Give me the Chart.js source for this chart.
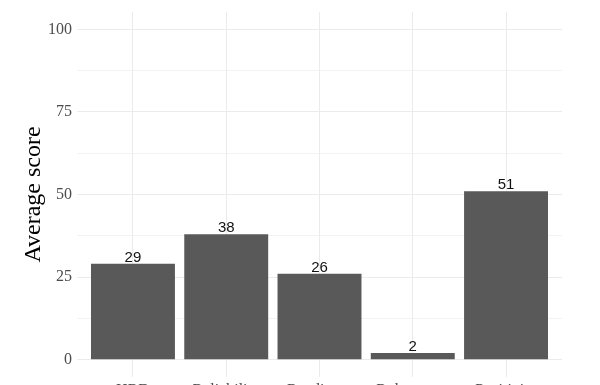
<!DOCTYPE html>
<html>
<head>
<meta charset="utf-8">
<script src="https://cdn.jsdelivr.net/npm/chart.js@4.4.1/dist/chart.umd.min.js"></script>
<style>
html,body{margin:0;padding:0;background:#fff;}
#wrap{width:600px;height:385px;position:relative;}
</style>
</head>
<body>
<div id="wrap"><canvas id="c" width="600" height="385"></canvas></div>
<script>
const categories = ["HRD", "Reliability", "Readiness", "Robustness", "Positivity"];
const scores = [29, 38, 26, 2, 51];
const yTicks = [0, 25, 50, 75, 100];
const yMinor = [12.5, 37.5, 62.5, 87.5];

const serif = "'Liberation Serif', 'DejaVu Serif', serif";

const valueLabels = {
  id: 'valueLabels',
  afterDatasetsDraw(chart) {
    const ctx = chart.ctx;
    const meta = chart.getDatasetMeta(0);
    ctx.save();
    ctx.font = "15px 'Liberation Sans', Arial, sans-serif";
    ctx.fillStyle = '#111';
    ctx.textAlign = 'center';
    ctx.textBaseline = 'alphabetic';
    meta.data.forEach((bar, i) => {
      ctx.fillText(String(scores[i]), bar.x, bar.y - 2);
    });
    ctx.restore();
  }
};

new Chart(document.getElementById('c'), {
  type: 'bar',
  data: {
    datasets: [{
      data: scores.map((v, i) => ({x: i, y: v})),
      backgroundColor: '#595959',
      borderWidth: 0,
      barPercentage: 0.9,
      categoryPercentage: 1.0
    }]
  },
  options: {
    responsive: false,
    animation: false,
    devicePixelRatio: 1,
    layout: {padding: {left: 0, right: 38, top: 12, bottom: 0}},
    plugins: {legend: {display: false}, tooltip: {enabled: false}},
    scales: {
      x: {
        type: 'linear',
        min: -0.6,
        max: 4.6,
        offset: false,
        afterBuildTicks: axis => { axis.ticks = categories.map((_, i) => ({value: i})); },
        afterFit: axis => { axis.height = 8; axis.paddingLeft = 0; axis.paddingRight = 0; },
        border: {display: false},
        grid: {color: '#ebebeb', lineWidth: 1, drawTicks: false, offset: false},
        ticks: {
          padding: 4,
          autoSkip: false,
          maxRotation: 0,
          color: '#4d4d4d',
          font: {family: serif, size: 16},
          callback: v => categories[v] !== undefined ? categories[v] : ''
        }
      },
      y: {
        min: -5.25,
        max: 105.25,
        afterBuildTicks: axis => {
          axis.ticks = [...yTicks, ...yMinor].sort((a, b) => a - b).map(v => ({value: v}));
        },
        afterFit: axis => { axis.width = 77; axis.paddingTop = 0; axis.paddingBottom = 0; },
        border: {display: false},
        grid: {
          drawTicks: false,
          color: '#ebebeb',
          lineWidth: ctx => (yTicks.includes(ctx.tick && ctx.tick.value) ? 1 : 0.6)
        },
        ticks: {
          padding: 5,
          color: '#4d4d4d',
          font: {family: serif, size: 16},
          callback: v => yTicks.includes(v) ? String(v) : ''
        },
        title: {
          display: true,
          text: 'Average score',
          color: '#000',
          font: {family: serif, size: 24},
          padding: {top: 19, bottom: 0}
        }
      }
    }
  },
  plugins: [valueLabels]
});
</script>
</body>
</html>
